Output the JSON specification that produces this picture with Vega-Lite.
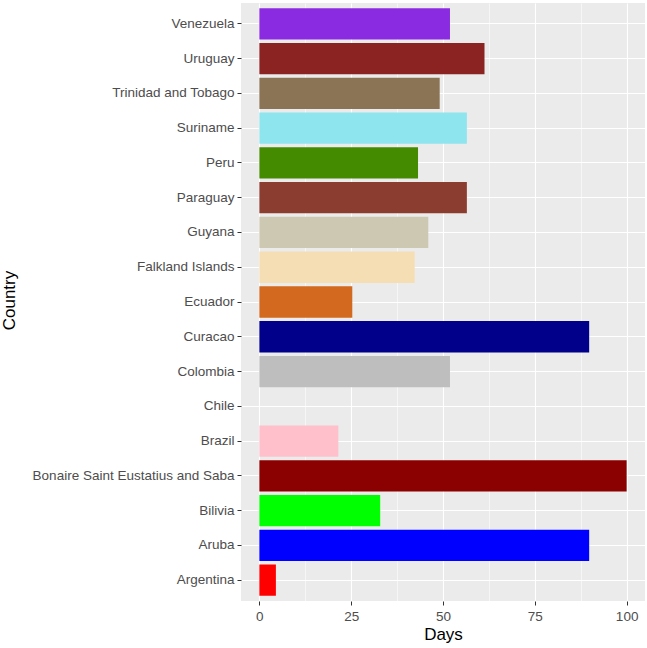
{
  "$schema": "https://vega.github.io/schema/vega-lite/v6.json",
  "width": 404,
  "height": 598,
  "autosize": {"type": "none"},
  "padding": {"left": 241, "top": 3, "right": 2, "bottom": 47},
  "background": "white",
  "data": {
    "values": [
      {"Country": "Venezuela", "Days": 51.9},
      {"Country": "Uruguay", "Days": 61.3},
      {"Country": "Trinidad and Tobago", "Days": 49.1},
      {"Country": "Suriname", "Days": 56.5},
      {"Country": "Peru", "Days": 43.2},
      {"Country": "Paraguay", "Days": 56.5},
      {"Country": "Guyana", "Days": 46.0},
      {"Country": "Falkland Islands", "Days": 42.3},
      {"Country": "Ecuador", "Days": 25.3},
      {"Country": "Curacao", "Days": 89.8},
      {"Country": "Colombia", "Days": 51.9},
      {"Country": "Chile", "Days": 0},
      {"Country": "Brazil", "Days": 21.5},
      {"Country": "Bonaire Saint Eustatius and Saba", "Days": 100},
      {"Country": "Bilivia", "Days": 32.9},
      {"Country": "Aruba", "Days": 89.8},
      {"Country": "Argentina", "Days": 4.5}
    ]
  },
  "layer": [
    {
      "mark": {"type": "bar", "opacity": 0},
      "encoding": {
        "x": {
          "field": "Days", "type": "quantitative",
          "scale": {"domain": [-5, 105], "nice": false, "zero": false},
          "axis": {"orient": "top", "values": [12.5, 37.5, 62.5, 87.5], "grid": true, "gridColor": "white", "gridWidth": 0.55, "labels": false, "ticks": false, "domain": false, "title": null}
        },
        "y": {
          "field": "Country", "type": "nominal", "sort": "descending",
          "scale": {"paddingInner": 0.1, "paddingOuter": 0.15}
        }
      }
    },
    {
      "mark": {"type": "bar"},
      "encoding": {
        "x": {
          "field": "Days", "type": "quantitative",
          "scale": {"domain": [-5, 105], "nice": false, "zero": false},
          "axis": {"orient": "bottom", "values": [0, 25, 50, 75, 100], "grid": true, "gridColor": "white", "gridWidth": 1.1, "domain": false, "tickColor": "#333333", "tickSize": 4, "labelColor": "#4D4D4D", "labelFontSize": 13.5, "labelPadding": 4, "title": "Days", "titleFontSize": 17, "titleFontWeight": "normal", "titleColor": "black", "titlePadding": 4}
        },
        "y": {
          "field": "Country", "type": "nominal", "sort": "descending",
          "scale": {"paddingInner": 0.1, "paddingOuter": 0.15},
          "axis": {"bandPosition": 0.5, "grid": true, "gridColor": "white", "gridWidth": 1.1, "domain": false, "tickColor": "#333333", "tickSize": 4, "labelColor": "#4D4D4D", "labelFontSize": 13.5, "labelPadding": 3, "labelLimit": 0, "title": "Country", "titleFontSize": 17, "titleFontWeight": "normal", "titleColor": "black", "titleAngle": -90, "titleX": -232, "titleY": 297, "titleAlign": "center", "titleBaseline": "middle"}
        },
        "color": {
          "field": "Country", "type": "nominal", "legend": null,
          "scale": {
            "domain": ["Venezuela", "Uruguay", "Trinidad and Tobago", "Suriname", "Peru", "Paraguay", "Guyana", "Falkland Islands", "Ecuador", "Curacao", "Colombia", "Chile", "Brazil", "Bonaire Saint Eustatius and Saba", "Bilivia", "Aruba", "Argentina"],
            "range": ["#8A2BE2", "#8B2323", "#8B7355", "#8EE5EE", "#458B00", "#8B3E2F", "#CDC8B1", "#F5DEB3", "#D2691E", "#00008B", "#BEBEBE", "#FFFFFF", "#FFC0CB", "#8B0000", "#00FF00", "#0000FF", "#FF0000"]
          }
        }
      }
    }
  ],
  "resolve": {"axis": {"x": "independent"}},
  "config": {
    "font": "Liberation Sans",
    "view": {"fill": "#EBEBEB", "stroke": null},
    "axis": {"labelFont": "Liberation Sans", "titleFont": "Liberation Sans"}
  }
}
